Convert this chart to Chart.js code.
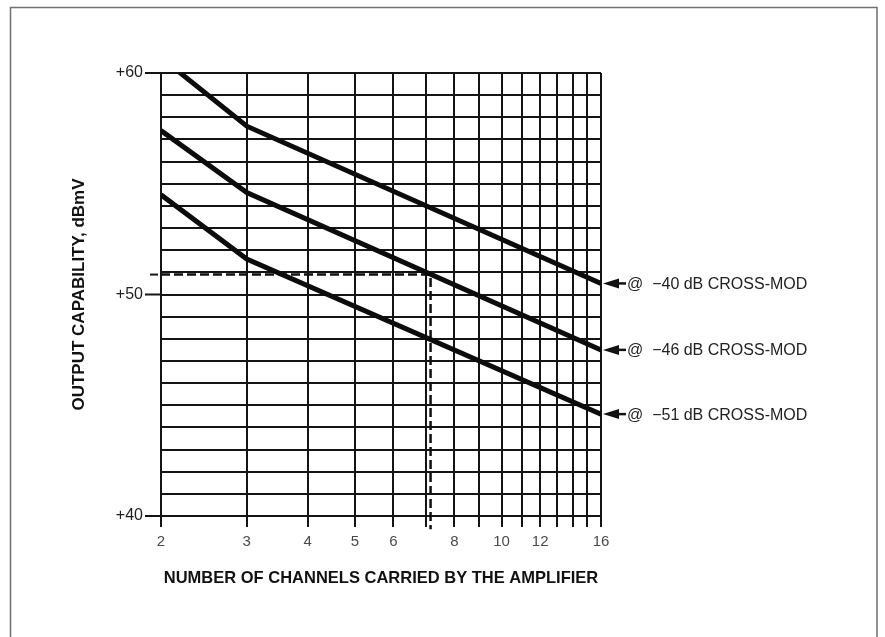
<!DOCTYPE html>
<html>
<head>
<meta charset="utf-8">
<script src="https://cdn.jsdelivr.net/npm/chart.js@4/dist/chart.umd.min.js"></script>
<style>
  body { margin: 0; background: #fff; }
  #wrap { width: 885px; height: 637px; }
</style>
</head>
<body>
<div id="wrap"><canvas id="myChart" width="885" height="637"></canvas></div>
<script>
// channels where the curves bend / end
var channels = [2, 3, 16];
// output capability, dBmV, for each cross-mod level
var out40 = [60.7, 57.6, 50.5];
var out46 = [57.4, 54.6, 47.5];
var out51 = [54.5, 51.6, 44.6];
var curveLabels = ['@  \u221240 dB CROSS-MOD', '@  \u221246 dB CROSS-MOD', '@  \u221251 dB CROSS-MOD'];

// worked example (dashed)
var exampleX = [2, 7.15, 7.15];
var exampleY = [50.9, 50.9, 39.4];

// axes
var xGrid = [2, 3, 4, 5, 6, 7, 8, 9, 10, 11, 12, 13, 14, 15, 16];
var xLabels = [2, 3, 4, 5, 6, 8, 10, 12, 16];
var yLabels = [40, 50, 60];

var INK = '#141414';
var FONT = "'Liberation Sans', Arial, Helvetica, sans-serif";

function toPoints(xs, ys) {
    var pts = [];
    for (var i = 0; i < xs.length; i++) pts.push({x: xs[i], y: ys[i]});
    return pts;
}

function curve(values) {
    return {
        data: toPoints(channels, values),
        borderColor: '#0c0c0c',
        borderWidth: 5,
        pointRadius: 0,
        tension: 0,
        clip: 0,
        borderCapStyle: 'butt'
    };
}

var decorPlugin = {
    id: 'decor',
    beforeDraw: function (chart) {
        var ctx = chart.ctx;
        ctx.save();
        ctx.fillStyle = '#fff';
        ctx.fillRect(0, 0, chart.width, chart.height);
        // outer frame
        ctx.strokeStyle = '#707070';
        ctx.lineWidth = 1.5;
        ctx.beginPath();
        ctx.moveTo(10.5, 700);
        ctx.lineTo(10.5, 7.5);
        ctx.lineTo(877, 7.5);
        ctx.lineTo(877, 700);
        ctx.stroke();
        ctx.restore();
    },
    afterDraw: function (chart) {
        var ctx = chart.ctx;
        var yScale = chart.scales.y;
        var left = chart.chartArea.left;
        ctx.save();
        // y tick marks
        ctx.strokeStyle = INK;
        ctx.lineWidth = 2;
        yLabels.forEach(function (v) {
            var py = yScale.getPixelForValue(v);
            ctx.beginPath();
            ctx.moveTo(left - 16, py);
            ctx.lineTo(left, py);
            ctx.stroke();
        });
        var py51 = yScale.getPixelForValue(exampleY[0]);
        ctx.beginPath();
        ctx.moveTo(left - 11, py51);
        ctx.lineTo(left - 3, py51);
        ctx.stroke();

        // arrows + curve labels
        for (var i = 0; i < 3; i++) {
            var pts = chart.getDatasetMeta(i).data;
            var end = pts[pts.length - 1];
            var x0 = chart.chartArea.right + 2, y0 = end.y;
            ctx.fillStyle = '#111';
            ctx.beginPath();
            ctx.moveTo(x0, y0);
            ctx.lineTo(x0 + 16, y0 - 5);
            ctx.lineTo(x0 + 16, y0 + 5);
            ctx.closePath();
            ctx.fill();
            ctx.lineWidth = 2.5;
            ctx.beginPath();
            ctx.moveTo(x0 + 10, y0);
            ctx.lineTo(x0 + 23, y0);
            ctx.stroke();
            ctx.fillStyle = '#222';
            ctx.font = '16px ' + FONT;
            ctx.textBaseline = 'middle';
            ctx.textAlign = 'left';
            ctx.fillText(curveLabels[i], x0 + 24, y0 + 1);
        }
        ctx.restore();
    }
};

var ctx = document.getElementById('myChart').getContext('2d');
var chart = new Chart(ctx, {
    type: 'line',
    data: {
        datasets: [
            curve(out40),
            curve(out46),
            curve(out51),
            {
                data: toPoints(exampleX, exampleY),
                borderColor: '#111',
                borderWidth: 2.5,
                borderDash: [9, 4],
                pointRadius: 0,
                tension: 0,
                clip: false
            }
        ]
    },
    options: {
        responsive: false,
        animation: false,
        layout: { padding: { left: 0, top: 73, right: 284, bottom: 0 } },
        plugins: {
            legend: { display: false },
            tooltip: { enabled: false }
        },
        scales: {
            x: {
                type: 'logarithmic',
                min: 2,
                max: 16,
                afterBuildTicks: function (scale) {
                    scale.ticks = xGrid.map(function (v) { return {value: v}; });
                },
                afterFit: function (scale) { scale.height = 121; },
                grid: { color: INK, lineWidth: 2, tickLength: 11, drawTicks: true },
                border: { color: INK, width: 2 },
                ticks: {
                    autoSkip: false,
                    maxRotation: 0,
                    padding: 6,
                    color: '#4a4a4a',
                    font: { family: FONT, size: 15 },
                    callback: function (v) { return xLabels.indexOf(v) >= 0 ? String(v) : ''; }
                },
                title: {
                    display: true,
                    text: 'NUMBER OF CHANNELS CARRIED BY THE AMPLIFIER',
                    color: '#111',
                    font: { family: FONT, size: 16.5, weight: 'bold' },
                    padding: { top: 0, bottom: 49 }
                }
            },
            y: {
                type: 'linear',
                min: 40,
                max: 60,
                afterFit: function (scale) { scale.width = 161; },
                grid: { color: INK, lineWidth: 2, drawTicks: false },
                border: { color: INK, width: 2 },
                ticks: {
                    stepSize: 1,
                    autoSkip: false,
                    padding: 18,
                    color: '#1e1e1e',
                    font: { family: FONT, size: 16 },
                    callback: function (v) { return yLabels.indexOf(v) >= 0 ? '+' + v : ''; }
                },
                title: {
                    display: true,
                    text: 'OUTPUT CAPABILITY, dBmV',
                    color: '#111',
                    font: { family: FONT, size: 17, weight: 'bold' },
                    padding: { top: 69, bottom: 0 }
                }
            }
        }
    },
    plugins: [decorPlugin]
});
</script>
</body>
</html>
